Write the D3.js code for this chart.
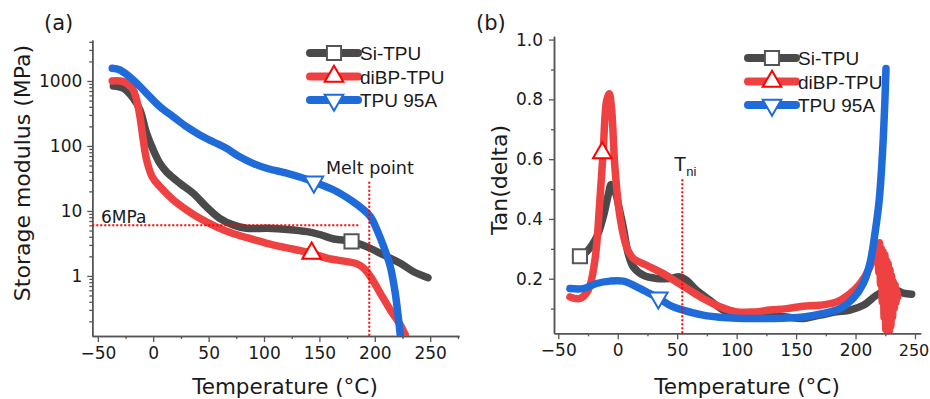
<!DOCTYPE html>
<html>
<head>
<meta charset="utf-8">
<script src="https://cdn.jsdelivr.net/npm/d3@7"></script>
<style>
  body { margin: 0; background: #fff; }
  text { font-family: "DejaVu Sans", sans-serif; fill: #1a1a1a; }
</style>
</head>
<body>
<svg width="930" height="399"></svg>
<script>
// ---- data: [temperature °C, value] ----
// (a) storage modulus, MPa
var siMod = [[-36,838],[-27,771],[-18,542],[-12,358],[-6,157],[0,87],[6,54],[12,40],[24,26.7],[36,18.7],[48,11.6],[60,7.7],[72,6.1],[84,5.4],[103,5.4],[121,5.2],[139,4.8],[151,4.3],[163,3.7],[179,3.4],[193,2.8],[208,2.1],[223,1.57],[235,1.16],[248,0.94]];
var diMod = [[-37,1000],[-27,977],[-19,771],[-15,511],[-12,282],[-9,124],[-6,61],[-1,33.7],[6,23.7],[18,14.8],[30,10.4],[42,7.7],[57,5.7],[72,4.5],[90,3.66],[108,3.0],[127,2.57],[143,2.23],[157,1.87],[175,1.66],[184,1.53],[190,1.31],[196,0.98],[205,0.54],[214,0.30],[223,0.176],[227.5,0.124]];
var tpuMod = [[-37,1567],[-30,1475],[-18,1036],[-6,646],[6,403],[18,282],[30,198],[42,148],[54,116],[66,92],[78,68],[90,54],[103,45],[121,38],[133,33],[145,28],[163,21],[178,14.8],[190,10.4],[196,8.2],[202,5.1],[208,2.83],[214,1.39],[218.5,0.54],[221.5,0.21],[223,0.124]];

// (b) tan(delta)
var siTan = [[-31.8,0.275],[-26.2,0.290],[-17.7,0.340],[-12.2,0.407],[-8,0.48],[-5.5,0.515],[-2,0.49],[1.5,0.43],[4.6,0.373],[8.8,0.284],[13,0.240],[21.4,0.212],[32.7,0.201],[43.9,0.201],[52.3,0.206],[57.9,0.195],[66.4,0.161],[77.5,0.128],[88.8,0.095],[100,0.078],[114,0.072],[128,0.078],[142,0.072],[156,0.067],[170,0.078],[184,0.089],[195.3,0.095],[206.5,0.111],[217.7,0.145],[226.2,0.161],[234.6,0.161],[240.1,0.152],[247.2,0.148]];
var diTan = [[-40.2,0.139],[-31.8,0.134],[-24.8,0.162],[-19.2,0.262],[-15,0.463],[-12.2,0.63],[-9.3,0.797],[-7.1,0.819],[-5.1,0.764],[-2.4,0.574],[1.9,0.407],[7.5,0.306],[13,0.268],[24.3,0.245],[38.3,0.217],[49.5,0.189],[60.7,0.161],[71.9,0.134],[86,0.106],[100,0.089],[114,0.089],[128,0.095],[142,0.100],[156,0.108],[170,0.111],[184,0.122],[195.3,0.150],[203.7,0.183],[212.1,0.239],[217.7,0.306],
  [218.5,0.31],[219.5,0.22],[220.3,0.32],[221,0.18],[221.8,0.30],[222.5,0.12],[223.2,0.29],[224,0.07],[224.7,0.28],[225.4,0.03],[226.1,0.26],[226.8,0.02],[227.5,0.25],[228.2,0.02],[229,0.23],[229.7,0.04],[230.4,0.21],[231.1,0.07],[231.8,0.19],[232.5,0.10],[233.2,0.18],[234,0.12],[234.8,0.16],[235.5,0.14]];
var tpuTan = [[-40.2,0.167],[-29,0.167],[-17.7,0.184],[-6.6,0.192],[4.6,0.192],[15.9,0.173],[27.1,0.150],[34.1,0.136],[43.9,0.111],[55.1,0.095],[71.9,0.078],[88.8,0.070],[105.6,0.067],[128,0.067],[156,0.072],[172.8,0.084],[186.9,0.100],[198,0.134],[206.5,0.184],[212.1,0.251],[216.3,0.351],[219.9,0.463],[222.8,0.630],[224.7,0.797],[225.6,0.903]];

var seriesNames = ["Si-TPU", "diBP-TPU", "TPU 95A"];
var markersA = [[179,3.4],[143,2.23],[145,28]];
var markersB = [[-31.8,0.275],[-13,0.621],[34.1,0.136]];
var xTicks = [-50, 0, 50, 100, 150, 200, 250];
var xMinor = [-25, 25, 75, 125, 175, 225, 275];
var yTicksA = [1, 10, 100, 1000];
var yTicksB = [0.2, 0.4, 0.6, 0.8, 1.0];
var yMinorB = [0.1, 0.3, 0.5, 0.7, 0.9];

var colors = ["#4a4a4a", "#ee4242", "#1f6bd9"];
var markerStroke = ["#555555", "#ff0000", "#1f6bd9"];
var symbols = [d3.symbolSquare, d3.symbolTriangle, d3.symbolTriangle];
var symSize = [200, 150, 150];

var svg = d3.select("svg");

function drawMarker(g, i, x, y) {
    g.append("path")
        .attr("d", d3.symbol().type(symbols[i]).size(symSize[i])())
        .attr("transform", "translate(" + x + "," + y + ")" + (i == 2 ? " rotate(180)" : ""))
        .attr("fill", "#fff")
        .attr("stroke", markerStroke[i])
        .attr("stroke-width", 2);
}

function styleAxis(sel) {
    sel.select(".domain").attr("stroke", "#555").attr("stroke-width", 1.5);
    sel.selectAll(".tick line").attr("stroke", "#555").attr("stroke-width", 1.3);
    sel.selectAll(".tick text").style("font-size", "17px").attr("fill", "#1a1a1a");
}

function legend(g, x0, y0) {
    seriesNames.forEach(function (name, i) {
        var y = y0 + i * 23.5;
        g.append("line")
            .attr("x1", x0).attr("x2", x0 + 48).attr("y1", y).attr("y2", y)
            .attr("stroke", colors[i]).attr("stroke-width", 8).attr("stroke-linecap", "round");
        drawMarker(g, i, x0 + 24, y);
        g.append("text")
            .attr("x", x0 + 50).attr("y", y + 7)
            .style("font-family", "'Liberation Sans', Arial, sans-serif")
            .style("font-size", "19px")
            .text(name);
    });
}

// ================= panel (a) =================
var xA = d3.scaleLinear().domain([-55, 276]).range([92.3, 459]);
var yA = d3.scaleLog().domain([0.119, 4270]).range([336, 40]);

var gA = svg.append("g");
svg.append("clipPath").attr("id", "clipA").append("rect")
    .attr("x", 92.3).attr("y", 40).attr("width", 367).attr("height", 296);

var minorA = [];
[0.1, 1, 10, 100, 1000].forEach(function (d) {
    for (var k = 2; k <= 9; k++) if (d * k < 4270 && d * k > 0.119) minorA.push(d * k);
});

gA.append("g").attr("transform", "translate(0,336)")
    .call(d3.axisBottom(xA).tickValues(xMinor).tickSize(3).tickSizeOuter(0).tickFormat(""))
    .call(styleAxis);
gA.append("g").attr("transform", "translate(0,336)")
    .call(d3.axisBottom(xA).tickValues(xTicks).tickSize(6).tickSizeOuter(0).tickPadding(5))
    .call(styleAxis);
gA.append("g").attr("transform", "translate(92.3,0)")
    .call(d3.axisLeft(yA).tickValues(minorA).tickSize(3).tickSizeOuter(0).tickFormat(""))
    .call(styleAxis);
gA.append("g").attr("transform", "translate(92.3,0)")
    .call(d3.axisLeft(yA).tickValues(yTicksA).tickSize(5).tickSizeOuter(0).tickPadding(5).tickFormat(d3.format("d")))
    .call(styleAxis);

var lineA = d3.line()
    .x(function (d) { return xA(d[0]); })
    .y(function (d) { return yA(d[1]); })
    .curve(d3.curveCatmullRom.alpha(0.5));

var plotA = gA.append("g").attr("clip-path", "url(#clipA)");
[siMod, diMod, tpuMod].forEach(function (s, i) {
    plotA.append("path").attr("d", lineA(s))
        .attr("fill", "none").attr("stroke", colors[i]).attr("stroke-width", 7.5)
        .attr("stroke-linecap", "round").attr("stroke-linejoin", "round");
});

// 6 MPa and melt point guides
gA.append("line")
    .attr("x1", xA(-55)).attr("x2", xA(187)).attr("y1", yA(6)).attr("y2", yA(6))
    .attr("stroke", "#ff0000").attr("stroke-width", 2).attr("stroke-dasharray", "2,2");
gA.append("line")
    .attr("x1", xA(195)).attr("x2", xA(195)).attr("y1", yA(28.2)).attr("y2", 336)
    .attr("stroke", "#ff0000").attr("stroke-width", 2).attr("stroke-dasharray", "2,2");
gA.append("text").attr("x", 101).attr("y", 223).style("font-size", "17px").text("6MPa");
gA.append("text").attr("x", 326).attr("y", 174).style("font-size", "17.5px").text("Melt point");

markersA.forEach(function (m, i) { drawMarker(gA, i, xA(m[0]), yA(m[1])); });
legend(gA, 310, 53);

gA.append("text").attr("x", 44).attr("y", 30).style("font-size", "21px").text("(a)");
gA.append("text").attr("text-anchor", "middle")
    .attr("transform", "translate(30,173) rotate(-90)")
    .style("font-size", "22px").text("Storage modulus (MPa)");
gA.append("text").attr("text-anchor", "middle").attr("x", 285).attr("y", 394)
    .style("font-size", "21.5px").text("Temperature (°C)");

// ================= panel (b) =================
var xB = d3.scaleLinear().domain([-53.6, 254.8]).range([554, 920.7]);
var yB = d3.scaleLinear().domain([0.0174, 1.011]).range([333.3, 36.3]);

var gB = svg.append("g");
svg.append("clipPath").attr("id", "clipB").append("rect")
    .attr("x", 554).attr("y", 0).attr("width", 367).attr("height", 333.3);

gB.append("g").attr("transform", "translate(0,333.3)")
    .call(d3.axisBottom(xB).tickValues(xMinor.slice(0, 6)).tickSize(3).tickSizeOuter(0).tickFormat(""))
    .call(styleAxis);
var xAxisB = gB.append("g").attr("transform", "translate(0,333.3)")
    .call(d3.axisBottom(xB).tickValues(xTicks).tickSize(6).tickSizeOuter(0).tickPadding(5))
    .call(styleAxis);
// last label sits against the right edge
xAxisB.selectAll(".tick text").filter(function (d) { return d == 250; })
    .style("font-size", "16px").attr("dx", "-1.5");
gB.append("g").attr("transform", "translate(554,0)")
    .call(d3.axisLeft(yB).tickValues(yMinorB).tickSize(3).tickSizeOuter(0).tickFormat(""))
    .call(styleAxis);
gB.append("g").attr("transform", "translate(554,0)")
    .call(d3.axisLeft(yB).tickValues(yTicksB).tickSize(5).tickSizeOuter(0).tickPadding(6).tickFormat(d3.format(".1f")))
    .call(styleAxis);

var lineB = d3.line()
    .x(function (d) { return xB(d[0]); })
    .y(function (d) { return yB(d[1]); })
    .curve(d3.curveCatmullRom.alpha(0.5));

var plotB = gB.append("g").attr("clip-path", "url(#clipB)");
[siTan, diTan, tpuTan].forEach(function (s, i) {
    plotB.append("path").attr("d", lineB(s))
        .attr("fill", "none").attr("stroke", colors[i]).attr("stroke-width", 7.5)
        .attr("stroke-linecap", "round").attr("stroke-linejoin", "round");
});

// T_ni guide
gB.append("line")
    .attr("x1", xB(54.3)).attr("x2", xB(54.3)).attr("y1", yB(0.533)).attr("y2", 333.3)
    .attr("stroke", "#ff0000").attr("stroke-width", 2).attr("stroke-dasharray", "2,2");
var tni = gB.append("text").attr("x", 674).attr("y", 171)
    .style("font-family", "'Liberation Sans', Arial, sans-serif").style("font-size", "20px");
tni.append("tspan").text("T");
tni.append("tspan").attr("dy", 5).style("font-size", "13px").text("ni");

markersB.forEach(function (m, i) { drawMarker(gB, i, xB(m[0]), yB(m[1])); });
legend(gB, 748, 58);

gB.append("text").attr("x", 476).attr("y", 30).style("font-size", "21px").text("(b)");
gB.append("text").attr("text-anchor", "middle")
    .attr("transform", "translate(507,180) rotate(-90)")
    .style("font-size", "22px").text("Tan(delta)");
gB.append("text").attr("text-anchor", "middle").attr("x", 747).attr("y", 394)
    .style("font-size", "21.5px").text("Temperature (°C)");
</script>
</body>
</html>
